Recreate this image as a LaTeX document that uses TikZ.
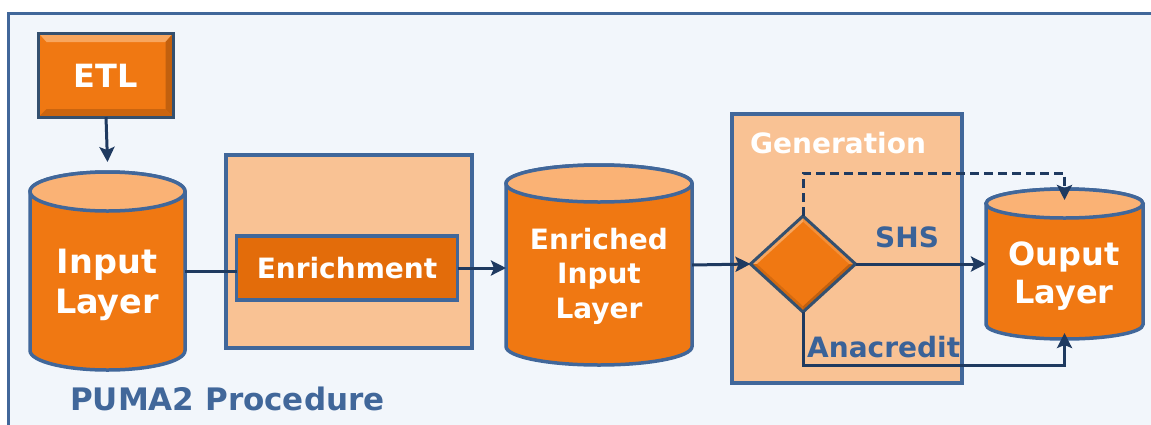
\documentclass[tikz,border=0pt]{standalone}
\usepackage{fontspec}
\setmainfont{DejaVu Sans}
\usetikzlibrary{shapes.geometric,arrows.meta,calc}

\definecolor{paper}{HTML}{F2F6FB}
\definecolor{edge}{HTML}{41679A}
\definecolor{navy}{HTML}{1F3A60}
\definecolor{orangebody}{HTML}{F07812}
\definecolor{orangetop}{HTML}{FAB275}
\definecolor{orangedeep}{HTML}{E36C0A}
\definecolor{peach}{HTML}{F9C294}
\definecolor{labelblue}{HTML}{3A6298}
\definecolor{bevellight}{HTML}{F8A65E}
\definecolor{beveldark}{HTML}{C2600E}
\definecolor{etledge}{HTML}{34506F}

% cylinder drawn inside the rectangle of node #1, rim radii #2 (x) and #3 (y)
\newcommand\drum[3]{%
  \filldraw[cylbody] ([yshift=-#3]#1.north west) -- ([yshift=#3]#1.south west)
    arc[start angle=180,end angle=360,x radius=#2,y radius=#3]
    -- ([yshift=-#3]#1.north east)
    arc[start angle=0,end angle=180,x radius=#2,y radius=#3] -- cycle;
  \filldraw[cyltop] ([yshift=-#3]#1.north) ellipse[x radius=#2,y radius=#3];
}

\begin{document}
\begin{tikzpicture}[x=1pt,y=-1pt,
  frame/.style={draw=edge,line width=3pt,fill=paper},
  drumbox/.style={inner sep=0pt,outer sep=0pt},
  cylbody/.style={draw=edge,line width=3.5pt,fill=orangebody},
  cyltop/.style={draw=edge,line width=3.5pt,fill=orangetop},
  stagebox/.style={draw=edge,line width=3.2pt,fill=peach,inner sep=0pt,outer sep=0pt},
  taskbox/.style={draw=edge,line width=3.2pt,fill=orangedeep,inner sep=0pt,outer sep=0pt,
    text=white,font=\fontsize{28}{32}\selectfont\bfseries},
  whitetext/.style={text=white,align=center,inner sep=0pt},
  bluelabel/.style={text=labelblue,inner sep=0pt,font=\fontsize{28}{32}\selectfont\bfseries},
  flow/.style={draw=navy,line width=3pt,-{Stealth[length=15pt,width=15pt,inset=3pt]}},
  link/.style={draw=navy,line width=3pt},
]
\useasboundingbox (0,0) rectangle (1151,424);
\clip (0,0) rectangle (1151,424);
\fill[white] (0,0) rectangle (1151,424);
\draw[frame] (8,13) rectangle (1180,450);

% ETL source box with a bevelled rim
\node[draw=etledge,line width=3pt,fill=orangebody,inner sep=0pt,outer sep=0pt,
      minimum width=135pt,minimum height=84pt] (etl) at (106,75) {};
\fill[bevellight] (etl.north west) -- (etl.north east) -- ([shift={(-8pt,-9pt)}]etl.north east)
  -- ([shift={(8pt,-9pt)}]etl.north west) -- cycle;
\fill[beveldark] (etl.north east) -- (etl.south east) -- ([shift={(-8pt,8pt)}]etl.south east)
  -- ([shift={(-8pt,-9pt)}]etl.north east) -- cycle;
\fill[beveldark!80!orangebody] (etl.south west) -- (etl.south east) -- ([shift={(-8pt,8pt)}]etl.south east)
  -- ([shift={(8pt,8pt)}]etl.south west) -- cycle;
\draw[etledge,line width=3pt] (etl.north west) rectangle (etl.south east);
\node[whitetext,font=\fontsize{32}{38}\selectfont\bfseries] (etlt) at (106,76) {ETL};

% input layer
\node[drumbox,minimum width=155pt,minimum height=198pt] (inl) at (107.5,271) {};
\drum{inl}{77.5pt}{19.5pt}
\node[whitetext,font=\fontsize{33.5}{40}\selectfont\bfseries] (inlt) at (107,285) {Input\\Layer};

% enrichment stage
\node[stagebox,minimum width=246pt,minimum height=193pt] (enrbox) at (349,251.5) {};
\node[taskbox,minimum width=221pt,minimum height=64pt] (enr) at (347,268) {Enrichment};

% enriched input layer
\node[drumbox,minimum width=186pt,minimum height=200pt] (eil) at (599,265) {};
\drum{eil}{93pt}{18.5pt}
\node[whitetext,font=\fontsize{28}{34.5}\selectfont\bfseries] (eilt) at (599,276) {Enriched\\Input\\Layer};

% generation stage
\node[stagebox,minimum width=230pt,minimum height=269pt] (genbox) at (847,248.5) {};
\node[anchor=base west,inner sep=0pt,text=white,font=\fontsize{28}{32}\selectfont\bfseries]
  (gent) at (750,153) {Generation};

% decision diamond with bevel
\node[diamond,fill=orangebody,inner sep=0pt,outer sep=0pt,
      minimum width=105pt,minimum height=96pt] (dia) at (803,264) {};
\fill[bevellight] (dia.west) -- (dia.north) -- ($(dia.north)!0.12!(dia.center)$)
  -- ($(dia.west)!0.12!(dia.center)$) -- cycle;
\fill[beveldark] (dia.east) -- (dia.south) -- ($(dia.south)!0.12!(dia.center)$)
  -- ($(dia.east)!0.12!(dia.center)$) -- cycle;
\fill[beveldark!60!orangebody] (dia.west) -- (dia.south) -- ($(dia.south)!0.12!(dia.center)$)
  -- ($(dia.west)!0.12!(dia.center)$) -- cycle;
\fill[bevellight!50!orangebody] (dia.north) -- (dia.east) -- ($(dia.east)!0.12!(dia.center)$)
  -- ($(dia.north)!0.12!(dia.center)$) -- cycle;
\draw[etledge,line width=3pt,line join=round] (dia.west) -- (dia.north) -- (dia.east) -- (dia.south) -- cycle;

% output layer
\node[drumbox,minimum width=157pt,minimum height=150pt] (out) at (1064.5,264) {};
\drum{out}{78.5pt}{14.5pt}
\node[whitetext,font=\fontsize{32}{38}\selectfont\bfseries] (outt) at (1064,276) {Ouput\\Layer};

% connectors
\draw[flow] (etl.south) -- ([yshift=10pt]inl.north);
\draw[link] (inl.east) -- (inl.east -| enr.west);
\draw[flow] (enr.east) -- (enr.east -| eil.west);
\draw[flow] (eil.east) -- (dia.west);
\draw[flow] (dia.east) -- (out.west);
\draw[flow,dash pattern=on 9pt off 5pt] (dia.north) -- ++(0,-43) -| ([yshift=-11pt]out.north);
\draw[flow] (dia.south) -- ++(0,53) -| ([yshift=6pt]out.south);

% labels
\node[bluelabel,anchor=base west] (shs) at (875,247) {SHS};
\node[bluelabel,anchor=base west] (ana) at (807,357) {Anacredit};
\node[anchor=base west,inner sep=0pt,text=edge,font=\fontsize{31}{36}\selectfont\bfseries]
  (puma) at (70,410) {PUMA2 Procedure};
\end{tikzpicture}
\end{document}
